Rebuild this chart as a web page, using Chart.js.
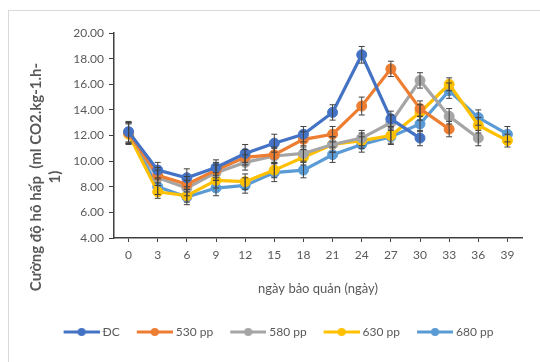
<!DOCTYPE html>
<html>
<head>
<meta charset="utf-8">
<script src="https://cdn.jsdelivr.net/npm/chart.js@4"></script>
<style>
  html, body { margin: 0; padding: 0; background: #fff; }
  #wrap { width: 540px; height: 362px; position: relative; }
</style>
</head>
<body>
<div id="wrap"><canvas id="chart" width="540" height="362"></canvas></div>
<script>
  const days = ["0", "3", "6", "9", "12", "15", "18", "21", "24", "27", "30", "33", "36", "39"];

  const dcValues = [12.3, 9.3, 8.7, 9.5, 10.6, 11.4, 12.1, 13.8, 18.3, 13.3, 11.8, null, null, null];
  const pp530Values = [12.2, 8.9, 8.2, 9.3, 10.3, 10.5, 11.7, 12.1, 14.3, 17.2, 14.1, 12.5, null, null];
  const pp580Values = [12.2, 8.7, 7.9, 9.1, 9.9, 10.4, 10.6, 11.3, 11.8, 13.0, 16.3, 13.5, 11.8, null];
  const pp630Values = [12.1, 7.6, 7.3, 8.5, 8.4, 9.3, 10.3, 11.3, 11.6, 12.0, 13.8, 16.0, 12.8, 11.6];
  const pp680Values = [12.2, 8.0, 7.2, 7.9, 8.1, 9.1, 9.3, 10.5, 11.3, 11.9, 12.9, 15.5, 13.4, 12.1];

  const dcErrors = [0.8, 0.6, 0.7, 0.6, 0.7, 0.7, 0.6, 0.6, 0.65, 0.6, 0.6, null, null, null];
  const pp530Errors = [0.8, 0.6, 0.6, 0.6, 0.6, 0.6, 0.6, 0.6, 0.7, 0.6, 0.6, 0.6, null, null];
  const pp580Errors = [0.8, 0.6, 0.6, 0.6, 0.6, 0.6, 0.6, 0.6, 0.6, 0.6, 0.6, 0.6, 0.6, null];
  const pp630Errors = [0.8, 0.5, 0.5, 0.6, 0.6, 0.6, 0.6, 0.6, 0.6, 0.6, 0.6, 0.5, 0.6, 0.5];
  const pp680Errors = [0.8, 0.6, 0.6, 0.6, 0.6, 0.7, 0.6, 0.6, 0.6, 0.6, 0.6, 0.6, 0.6, 0.6];

  const seriesLabels = ["ĐC", "530 pp", "580 pp", "630 pp", "680 pp"];
  const seriesColors = ["#4472C4", "#ED7D31", "#A5A5A5", "#FFC000", "#5B9BD5"];
  const seriesValues = [dcValues, pp530Values, pp580Values, pp630Values, pp680Values];
  const seriesErrors = [dcErrors, pp530Errors, pp580Errors, pp630Errors, pp680Errors];

  const yTicks = [4, 6, 8, 10, 12, 14, 16, 18, 20];

  const textColor = "#595959";
  const fontFamily = "Lato, 'Liberation Sans', sans-serif";

  function legendIcon(color) {
    const c = document.createElement("canvas");
    c.width = 38;
    c.height = 10;
    const ctx = c.getContext("2d");
    ctx.strokeStyle = color;
    ctx.lineWidth = 3;
    ctx.beginPath();
    ctx.moveTo(2, 5);
    ctx.lineTo(38, 5);
    ctx.stroke();
    ctx.fillStyle = color;
    ctx.beginPath();
    ctx.arc(20, 5, 4, 0, Math.PI * 2);
    ctx.fill();
    return c;
  }

  const datasets = seriesLabels.map(function (label, i) {
    return {
      label: label,
      data: seriesValues[i],
      errors: seriesErrors[i],
      borderColor: seriesColors[i],
      backgroundColor: seriesColors[i],
      borderWidth: 3.2,
      pointRadius: 5,
      pointBorderWidth: 1,
      pointStyle: "circle",
      legendIcon: legendIcon(seriesColors[i]),
      tension: 0,
      spanGaps: false
    };
  });

  // error bars drawn from the same scales as the points
  const errorBars = {
    id: "errorBars",
    afterDatasetsDraw(chart) {
      const ctx = chart.ctx;
      const y = chart.scales.y;
      ctx.save();
      ctx.strokeStyle = "#404040";
      ctx.lineWidth = 1;
      chart.data.datasets.forEach(function (ds, di) {
        const meta = chart.getDatasetMeta(di);
        ds.data.forEach(function (v, i) {
          const err = ds.errors[i];
          if (v == null || err == null) return;
          const px = meta.data[i].x;
          const top = y.getPixelForValue(v + err);
          const bot = y.getPixelForValue(v - err);
          ctx.beginPath();
          ctx.moveTo(px, top);
          ctx.lineTo(px, bot);
          ctx.moveTo(px - 3, top);
          ctx.lineTo(px + 3, top);
          ctx.moveTo(px - 3, bot);
          ctx.lineTo(px + 3, bot);
          ctx.stroke();
        });
      });
      ctx.restore();
    }
  };

  // Excel-style rotated, wrapped axis title and light frame
  const decorations = {
    id: "decorations",
    beforeDraw(chart) {
      const ctx = chart.ctx;
      ctx.save();
      ctx.strokeStyle = "#d9d9d9";
      ctx.lineWidth = 1;
      ctx.strokeRect(8.5, 10.5, 560, 400);
      ctx.restore();
    },
    afterDraw(chart) {
      const ctx = chart.ctx;
      ctx.save();
      ctx.fillStyle = textColor;
      ctx.font = "bold 15px " + fontFamily;
      ctx.textAlign = "center";
      ctx.textBaseline = "middle";
      ctx.translate(36, 177);
      ctx.rotate(-Math.PI / 2);
      ctx.fillText("Cường độ hô hấp  (ml CO2.kg-1.h-", 0, 0);
      ctx.fillText("1)", 0, 19);
      ctx.restore();
    }
  };

  new Chart(document.getElementById("chart").getContext("2d"), {
    type: "line",
    data: { labels: days, datasets: datasets },
    options: {
      responsive: false,
      animation: false,
      events: [],
      layout: { padding: { left: 36, right: 18, top: 33, bottom: 14 } },
      plugins: {
        tooltip: { enabled: false },
        legend: {
          position: "bottom",
          labels: {
            color: textColor,
            font: { family: fontFamily, size: 12 },
            usePointStyle: true,
            pointStyleWidth: 32,
            boxHeight: 10,
            padding: 18,
            generateLabels(chart) {
              return chart.data.datasets.map(function (ds, i) {
                return {
                  text: ds.label,
                  fontColor: textColor,
                  fillStyle: ds.borderColor,
                  strokeStyle: ds.borderColor,
                  lineWidth: 0,
                  pointStyle: ds.legendIcon,
                  datasetIndex: i,
                  hidden: false
                };
              });
            }
          }
        }
      },
      scales: {
        x: {
          type: "category",
          offset: true,
          afterFit(scale) { scale.height = 70; },
          grid: {
            offset: false,
            drawOnChartArea: false,
            drawTicks: true,
            tickLength: 4,
            color: "#404040"
          },
          border: { display: true, color: "#404040", width: 1.5 },
          ticks: {
            color: textColor,
            font: { family: fontFamily, size: 12 },
            padding: 6,
            maxRotation: 0,
            autoSkip: false
          },
          title: {
            display: true,
            text: "ngày bảo quản (ngày)",
            color: textColor,
            font: { family: fontFamily, size: 13 },
            padding: { top: 0, bottom: 11 }
          }
        },
        y: {
          min: 4,
          max: 20,
          afterFit(scale) { scale.width = 78; },
          afterBuildTicks(scale) {
            scale.ticks = yTicks.map(function (v) { return { value: v }; });
          },
          grid: {
            drawOnChartArea: false,
            drawTicks: true,
            tickLength: 5,
            color: "#404040"
          },
          border: { display: true, color: "#404040", width: 1.5 },
          ticks: {
            color: textColor,
            font: { family: fontFamily, size: 12 },
            padding: 5,
            callback(value) { return Number(value).toFixed(2); }
          }
        }
      }
    },
    plugins: [errorBars, decorations]
  });
</script>
</body>
</html>
